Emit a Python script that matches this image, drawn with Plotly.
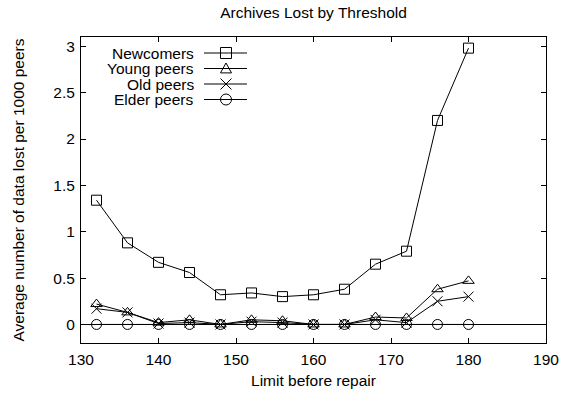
import plotly.graph_objects as go

limits = [132, 136, 140, 144, 148, 152, 156, 160, 164, 168, 172, 176, 180]
newcomers = [1.34, 0.88, 0.67, 0.56, 0.32, 0.34, 0.30, 0.32, 0.38, 0.65, 0.79, 2.20, 2.98]
young = [0.22, 0.13, 0.02, 0.05, 0.00, 0.05, 0.04, 0.00, 0.00, 0.08, 0.07, 0.38, 0.47]
old = [0.17, 0.13, 0.01, 0.02, 0.00, 0.03, 0.02, 0.00, 0.00, 0.05, 0.02, 0.25, 0.30]
elder = [0.0] * 13
series_names = ["Newcomers", "Young peers", "Old peers", "Elder peers"]
symbols = ["square-open", "triangle-up-open", "x-thin-open", "circle-open"]
x_ticks = [130, 140, 150, 160, 170, 180, 190]
y_ticks = [0, 0.5, 1, 1.5, 2, 2.5, 3]
y_tick_labels = ["0", "0.5", "1", "1.5", "2", "2.5", "3"]

W, H = 562, 394
L, R, T, B = 81, 16, 37, 51
FONT = "Liberation Sans, Arial, Helvetica, sans-serif"
FS = 15.5

fig = go.Figure()
for name, vals, sym in zip(series_names, [newcomers, young, old, elder], symbols):
    fig.add_trace(go.Scatter(
        x=limits, y=vals, mode="lines+markers", name=name,
        line=dict(color="black", width=1),
        marker=dict(symbol=sym, size=10, color="black", line=dict(color="black", width=1)),
        showlegend=False,
    ))

# custom gnuplot-style legend (text right, sample on the right)
pw, ph = W - L - R, H - T - B
def px_to_paper(px, py):
    return (px - L) / pw, (H - B - py) / ph

text_right = 195
line_x0, line_x1, mark_x = 204, 247, 226
row_y = [53, 68.5, 84, 99.5]
ms = 5.5
for i, (name, sym) in enumerate(zip(series_names, symbols)):
    py = row_y[i]
    tx, ty = px_to_paper(text_right, py)
    fig.add_annotation(x=tx, y=ty, xref="paper", yref="paper", text=name, showarrow=False,
                       xanchor="right", yanchor="middle", borderpad=0,
                       font=dict(family=FONT, size=FS, color="black"))
    a, yy = px_to_paper(line_x0, py)
    b, _ = px_to_paper(line_x1, py)
    fig.add_shape(type="line", xref="paper", yref="paper", x0=a, x1=b, y0=yy, y1=yy,
                  line=dict(color="black", width=1))
    cx, cy = px_to_paper(mark_x, py)
    dx, dy = ms / pw, ms / ph
    if sym == "square-open":
        fig.add_shape(type="rect", xref="paper", yref="paper", x0=cx - dx, x1=cx + dx,
                      y0=cy - dy, y1=cy + dy, line=dict(color="black", width=1))
    elif sym == "circle-open":
        fig.add_shape(type="circle", xref="paper", yref="paper", x0=cx - dx, x1=cx + dx,
                      y0=cy - dy, y1=cy + dy, line=dict(color="black", width=1))
    elif sym == "triangle-up-open":
        fig.add_shape(type="path", xref="paper", yref="paper",
                      path=f"M {cx-dx} {cy-dy*0.8} L {cx+dx} {cy-dy*0.8} L {cx} {cy+dy} Z",
                      line=dict(color="black", width=1))
    else:
        fig.add_shape(type="path", xref="paper", yref="paper",
                      path=f"M {cx-dx} {cy-dy} L {cx+dx} {cy+dy} M {cx-dx} {cy+dy} L {cx+dx} {cy-dy}",
                      line=dict(color="black", width=1))

axis_common = dict(showgrid=False, ticks="inside", ticklen=5, tickcolor="black", tickwidth=1,
                   showline=True, linecolor="black", linewidth=1, mirror="ticks", automargin=False,
                   tickfont=dict(family=FONT, size=FS, color="black"))
fig.update_xaxes(range=[130, 190], tickvals=x_ticks, zeroline=False, ticklabelstandoff=2,
                 title=dict(text="Limit before repair", font=dict(family=FONT, size=FS, color="black"), standoff=8),
                 **axis_common)
fig.update_yaxes(range=[-0.2, 3.1], tickvals=y_ticks, ticktext=y_tick_labels, ticklabelstandoff=2,
                 zeroline=True, zerolinecolor="black", zerolinewidth=1,
                 title=dict(text="Average number of data lost per 1000 peers", font=dict(family=FONT, size=FS, color="black"), standoff=24),
                 **axis_common)
fig.update_layout(
    width=W, height=H,
    margin=dict(l=L, r=R, t=T, b=B),
    paper_bgcolor="white", plot_bgcolor="white",
    title=dict(text="Archives Lost by Threshold", x=(L + pw / 2) / W, xanchor="center",
               y=1 - 13 / H, yanchor="middle", font=dict(family=FONT, size=FS, color="black")),
    font=dict(family=FONT, size=FS, color="black"),
)
fig.write_html("out.html", config={"displayModeBar": False},
               post_script="document.body.style.margin='0';document.body.style.overflow='hidden';")
